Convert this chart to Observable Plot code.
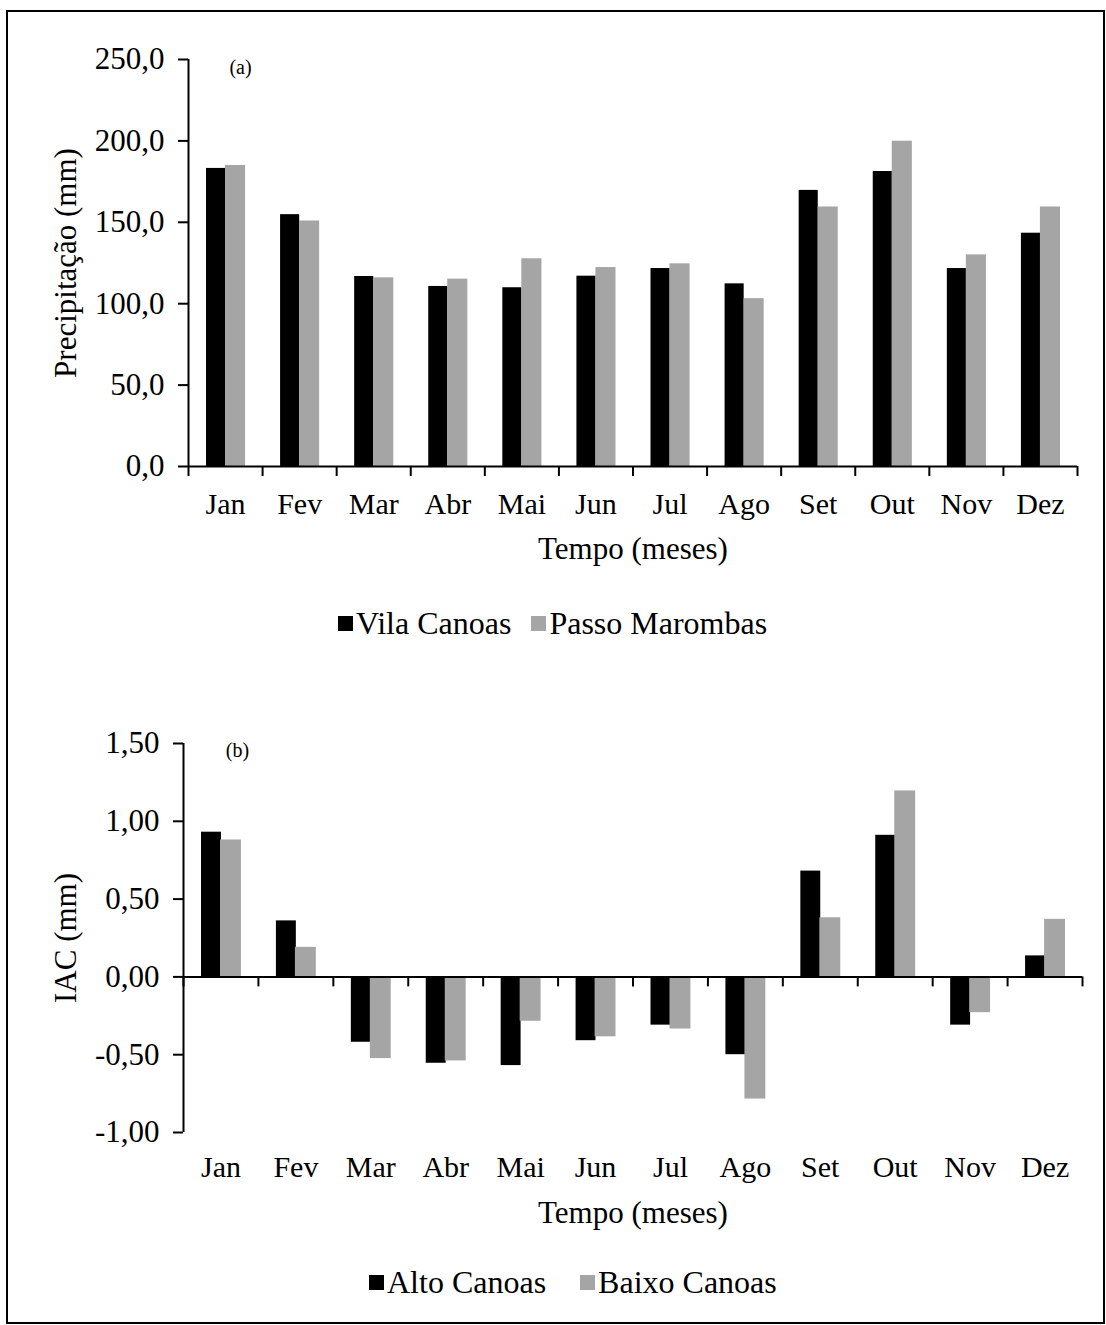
<!DOCTYPE html>
<html>
<head>
<meta charset="utf-8">
<script src="https://cdn.jsdelivr.net/npm/d3@7"></script>
<script src="https://cdn.jsdelivr.net/npm/@observablehq/plot@0.6"></script>
<style>
  html, body { margin: 0; padding: 0; background: #fff; }
  body { width: 1106px; height: 1325px; position: relative; overflow: hidden; font-family: "Liberation Serif", serif; }
  #frame { position: absolute; left: 6px; top: 10px; width: 1095px; height: 1310px; border: 2px solid #000; }
  .chart { position: absolute; left: 0; }
  .legend { position: absolute; display: flex; align-items: center; font-family: "Liberation Serif", serif; font-size: 32px; color: #000; white-space: nowrap; }
  .legend .sw { width: 15px; height: 15px; margin-right: 3px; }
  .legend .item { display: flex; align-items: center; }
</style>
</head>
<body>
<div id="frame"></div>
<div id="chartA" class="chart" style="top:0px"></div>
<div id="legendA" class="legend" style="left:338px; top:604px; height:38px"></div>
<div id="chartB" class="chart" style="top:660px"></div>
<div id="legendB" class="legend" style="left:369px; top:1263px; height:38px"></div>
<script>
// ---- data ----
const months = ["Jan", "Fev", "Mar", "Abr", "Mai", "Jun", "Jul", "Ago", "Set", "Out", "Nov", "Dez"];

const seriesA = ["Vila Canoas", "Passo Marombas"];
const vilaCanoas    = [183.1, 154.7, 116.7, 110.6, 109.8, 116.9, 121.6, 112.2, 169.6, 181.2, 121.6, 143.3];
const passoMarombas = [184.9, 150.8, 115.9, 115.1, 127.6, 122.2, 124.5, 103.1, 159.4, 199.8, 130.0, 159.4];
const yTicksA = [0, 50, 100, 150, 200, 250];

const seriesB = ["Alto Canoas", "Baixo Canoas"];
const altoCanoas  = [0.93, 0.36, -0.42, -0.555, -0.57, -0.41, -0.31, -0.50, 0.68, 0.91, -0.31, 0.135];
const baixoCanoas = [0.88, 0.19, -0.525, -0.54, -0.285, -0.385, -0.335, -0.785, 0.38, 1.195, -0.23, 0.37];
const yTicksB = [-1, -0.5, 0, 0.5, 1, 1.5];

const colors = ["#000000", "#a5a5a5"];

// ---- chart builder ----
function chart({a, b, yTicks, yDomain, fmt, yTitle, tag, height, mTop, mBottom, mLeft, mRight,
                labelPad, titleDy, yTitleDx, tagDx, tagDy, yPad}) {
  const rows = months.map((m, i) => ({i, month: m, a: a[i], b: b[i]}));
  return Plot.plot({
    width: 1106,
    height,
    marginTop: mTop, marginBottom: mBottom, marginLeft: mLeft, marginRight: mRight,
    style: {fontFamily: "Liberation Serif", fontSize: "31px", color: "#000", background: "transparent", overflow: "visible"},
    x: {domain: [0, months.length], axis: null, label: null},
    y: {domain: yDomain, axis: null, label: null},
    marks: [
      Plot.rectY(rows, {x: "i", interval: 1, y: "a", fill: colors[0], insetLeft: 18, insetRight: 37}),
      Plot.rectY(rows, {x: "i", interval: 1, y: "b", fill: colors[1], insetLeft: 37, insetRight: 17}),
      Plot.ruleY([0], {stroke: "#000", strokeWidth: 2}),
      Plot.ruleX([0], {stroke: "#000", strokeWidth: 2}),
      Plot.ruleX(d3.range(months.length + 1), {y1: 0, y2: 0, insetBottom: -10, stroke: "#000", strokeWidth: 2}),
      Plot.axisY({ticks: yTicks, tickFormat: fmt, tickSize: 10, tickPadding: yPad, strokeWidth: 2, stroke: "#000", fill: "#000", fontSize: 31, label: null}),
      Plot.axisX({ticks: months.map((m, i) => i + 0.5), tickFormat: d => months[Math.floor(d)], tickSize: 0, tickPadding: labelPad, fontSize: 30, fill: "#000", label: null}),
      Plot.text(["Tempo (meses)"], {frameAnchor: "bottom", textAnchor: "middle", lineAnchor: "middle", dy: titleDy, fontSize: 31, fill: "#000"}),
      Plot.text([yTitle], {frameAnchor: "left", textAnchor: "middle", lineAnchor: "middle", rotate: -90, dx: yTitleDx, fontSize: 31, fill: "#000"}),
      Plot.text([tag], {frameAnchor: "top-left", textAnchor: "middle", lineAnchor: "middle", dx: tagDx, dy: tagDy, fontSize: 20, fill: "#000"})
    ]
  });
}

function legend(el, names, gap) {
  names.forEach((n, k) => {
    const item = document.createElement("div");
    item.className = "item";
    if (k < names.length - 1) item.style.marginRight = gap + "px";
    const sw = document.createElement("div");
    sw.className = "sw";
    sw.style.background = colors[k];
    const t = document.createElement("span");
    t.textContent = n;
    item.appendChild(sw);
    item.appendChild(t);
    el.appendChild(item);
  });
}

document.getElementById("chartA").appendChild(chart({
  a: vilaCanoas, b: passoMarombas, yTicks: yTicksA, yDomain: [0, 250],
  fmt: d => d.toFixed(1).replace(".", ","), yTitle: "Precipitação (mm)", tag: "(a)",
  height: 590, mTop: 59, mBottom: 124, mLeft: 188, mRight: 29,
  labelPad: 26, titleDy: 83, yTitleDx: -122, tagDx: 52, tagDy: 8, yPad: 14
}));
legend(document.getElementById("legendA"), seriesA, 20);

document.getElementById("chartB").appendChild(chart({
  a: altoCanoas, b: baixoCanoas, yTicks: yTicksB, yDomain: [-1, 1.5],
  fmt: d => d.toFixed(2).replace(".", ","), yTitle: "IAC (mm)", tag: "(b)",
  height: 570, mTop: 83, mBottom: 98, mLeft: 183, mRight: 24,
  labelPad: 23, titleDy: 81, yTitleDx: -117, tagDx: 54, tagDy: 7, yPad: 14
}));
legend(document.getElementById("legendB"), seriesB, 34);
</script>
</body>
</html>
